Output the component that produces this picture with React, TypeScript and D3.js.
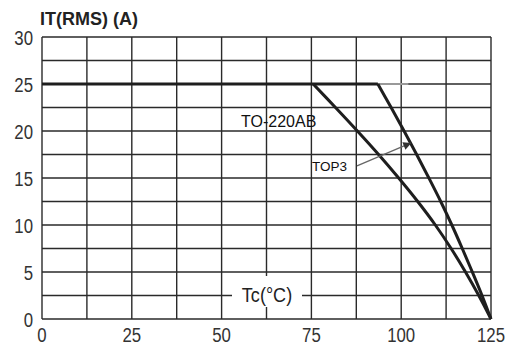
import { useEffect, useRef } from 'react'
import * as d3 from 'd3'

// case temperature (°C) vs RMS on-state current (A)
const to220Temp = [75.5, 81.7, 87.8, 93.7, 99.3, 104.6, 109.5, 113.9, 117.9, 121.6, 125]
const to220Amps = [25, 22.5, 20, 17.5, 15, 12.5, 10, 7.5, 5, 2.5, 0]
const top3Temp = [93.5, 97.2, 100.8, 104.3, 107.7, 111.0, 114.1, 117.0, 119.8, 122.5, 125]
const top3Amps = [25, 22.5, 20, 17.5, 15, 12.5, 10, 7.5, 5, 2.5, 0]
const plateau = [0, 93.5]
const plateauTail = [93.5, 102]
const xTicks = [0, 25, 50, 75, 100, 125]
const yTicks = [0, 5, 10, 15, 20, 25, 30]

const W = 516
const H = 351
const font = '"Liberation Sans", Arial, sans-serif'

export default function App() {
  const svgRef = useRef<SVGSVGElement>(null)

  useEffect(() => {
    if (!svgRef.current) return
    const svg = d3.select(svgRef.current)
    svg.selectAll('*').remove()

    const x = d3.scaleLinear().domain([0, 125]).range([42, 491])
    const y = d3.scaleLinear().domain([0, 30]).range([319, 37])

    svg.append('rect').attr('width', W).attr('height', H).attr('fill', '#fff')

    // grid every 12.5 °C / 2.5 A
    const grid = svg.append('g').attr('stroke', '#2a2a2a').attr('stroke-width', 1.4)
    grid.selectAll('.gx')
      .data(d3.range(0, 125.1, 12.5))
      .enter().append('line')
      .attr('x1', d => x(d)).attr('x2', d => x(d))
      .attr('y1', y(0)).attr('y2', y(30))
    grid.selectAll('.gy')
      .data(d3.range(0, 30.1, 2.5))
      .enter().append('line')
      .attr('x1', x(0)).attr('x2', x(125))
      .attr('y1', d => y(d)).attr('y2', d => y(d))

    // axis-label box knocks out the grid
    svg.append('rect')
      .attr('x', 232).attr('y', 276).attr('width', 70).attr('height', 31)
      .attr('fill', '#fff')
    svg.append('text')
      .attr('transform', 'translate(267,302) scale(0.86,1)')
      .attr('text-anchor', 'middle')
      .attr('font-family', font).attr('font-size', 21)
      .attr('fill', '#222')
      .text('Tc(°C)')

    // 25 A plateau
    svg.append('line')
      .attr('x1', x(plateauTail[0])).attr('x2', x(plateauTail[1]))
      .attr('y1', y(25)).attr('y2', y(25))
      .attr('stroke', '#999').attr('stroke-width', 2)
    svg.append('line')
      .attr('x1', x(plateau[0])).attr('x2', x(plateau[1]))
      .attr('y1', y(25)).attr('y2', y(25))
      .attr('stroke', '#1e1e1e').attr('stroke-width', 3)

    const line = d3.line<[number, number]>()
      .x(d => x(d[0])).y(d => y(d[1]))
      .curve(d3.curveCatmullRom.alpha(0.5))
    const curves = [
      d3.zip(to220Temp, to220Amps) as [number, number][],
      d3.zip(top3Temp, top3Amps) as [number, number][]
    ]
    svg.selectAll('.curve')
      .data(curves)
      .enter().append('path')
      .attr('d', d => line(d))
      .attr('fill', 'none')
      .attr('stroke', '#1e1e1e')
      .attr('stroke-width', 3)
      .attr('stroke-linejoin', 'round')

    // arrow TOP3 -> curve
    const defs = svg.append('defs')
    defs.append('marker')
      .attr('id', 'arr')
      .attr('viewBox', '0 0 10 10')
      .attr('refX', 9).attr('refY', 5)
      .attr('markerWidth', 12).attr('markerHeight', 8)
      .attr('markerUnits', 'userSpaceOnUse')
      .attr('orient', 'auto')
      .append('path').attr('d', 'M0,0L10,5L0,10Z').attr('fill', '#333')
    svg.append('line')
      .attr('x1', x(87.7)).attr('y1', y(16.3))
      .attr('x2', x(102.6)).attr('y2', y(18.7))
      .attr('stroke', '#666').attr('stroke-width', 1.3)
      .attr('marker-end', 'url(#arr)')

    svg.append('text')
      .attr('x', 241).attr('y', 127)
      .attr('font-family', font).attr('font-size', 16)
      .attr('fill', '#111')
      .text('TO-220AB')
    svg.append('text')
      .attr('x', 312).attr('y', 171)
      .attr('font-family', font).attr('font-size', 13.5)
      .attr('fill', '#111')
      .text('TOP3')

    // tick labels
    svg.selectAll('.xt')
      .data(xTicks)
      .enter().append('text')
      .attr('transform', d => `translate(${x(d)},342) scale(0.8,1)`)
      .attr('text-anchor', 'middle')
      .attr('font-family', font).attr('font-size', 21)
      .attr('fill', '#333')
      .text(d => d)
    svg.selectAll('.yt')
      .data(yTicks)
      .enter().append('text')
      .attr('transform', d => `translate(33,${y(d) + 8}) scale(0.8,1)`)
      .attr('text-anchor', 'end')
      .attr('font-family', font).attr('font-size', 21)
      .attr('fill', '#333')
      .text(d => d)

    svg.append('text')
      .attr('x', 40).attr('y', 25)
      .attr('font-family', font).attr('font-size', 18)
      .attr('font-weight', 'bold')
      .attr('fill', '#222')
      .text('IT(RMS) (A)')
  }, [])

  return (
    <svg ref={svgRef} width={W} height={H}
      style={{ position: 'absolute', left: 0, top: 0 }} />
  )
}
